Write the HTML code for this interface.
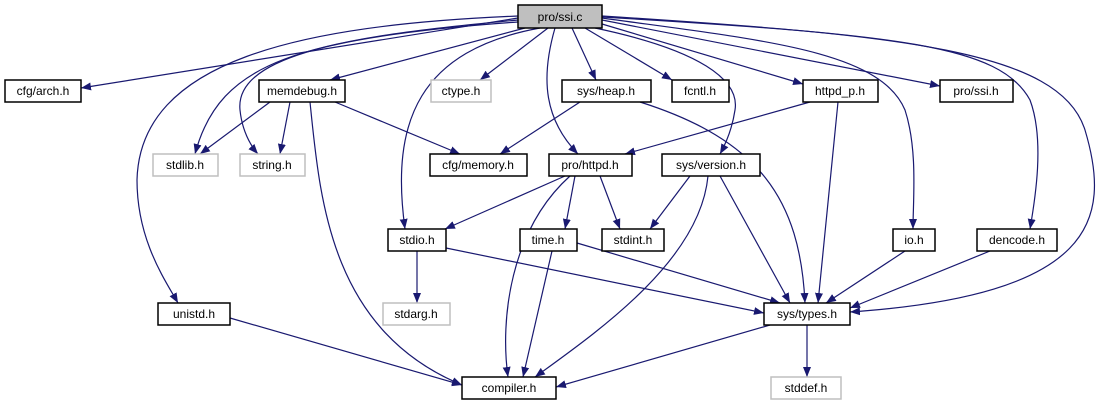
<!DOCTYPE html>
<html><head><meta charset="utf-8"><style>
html,body{margin:0;padding:0;background:#fff;}
svg{display:block;}
text{font-family:"Liberation Sans",sans-serif;font-size:12px;text-anchor:middle;}
</style></head><body>
<svg width="1110" height="411" viewBox="0 0 1110 411" xmlns="http://www.w3.org/2000/svg">
<defs><marker id="a" viewBox="0 0 10 10" refX="10" refY="5" markerWidth="10" markerHeight="10" markerUnits="userSpaceOnUse" orient="auto"><path d="M0,1 L10,5 L0,9 z" fill="#191970"/></marker></defs>
<g fill="none" stroke="#191970" stroke-width="1.2" marker-end="url(#a)">
<path d="M518,18 L81,88"/>
<path d="M518,20 C300,40 220,60 195,154"/>
<path d="M518,22 C330,35 235,60 240,110 C242,130 250,145 258,154"/>
<path d="M525,28 L330,80"/>
<path d="M540,28 C420,50 390,120 405,229"/>
<path d="M548,28 L480,80"/>
<path d="M555,28 C540,80 545,120 578,154"/>
<path d="M572,28 L596,80"/>
<path d="M585,28 L672,80"/>
<path d="M595,28 C700,50 740,80 735,110 C732,130 725,145 720,154"/>
<path d="M602,24 L803,84"/>
<path d="M602,20 L940,86"/>
<path d="M602,18 C760,40 880,50 905,110 C918,150 913,200 913,229"/>
<path d="M602,17 C900,35 1000,45 1030,100 C1045,140 1035,200 1030,229"/>
<path d="M602,16 C900,35 1060,50 1085,130 C1112,220 1095,295 850,312"/>
<path d="M518,16 C300,25 140,60 137,180 C137,240 165,280 178,303"/>
<path d="M270,102 L200,154"/>
<path d="M290,102 L280,154"/>
<path d="M335,102 L460,154"/>
<path d="M310,102 C320,200 330,330 462,385"/>
<path d="M580,102 L500,154"/>
<path d="M640,102 C760,140 800,200 805,303"/>
<path d="M810,102 L625,154"/>
<path d="M838,102 L818,303"/>
<path d="M565,176 L445,229"/>
<path d="M575,176 L565,229"/>
<path d="M600,176 L620,229"/>
<path d="M570,176 C510,230 500,320 508,377"/>
<path d="M690,176 L650,229"/>
<path d="M720,176 L790,303"/>
<path d="M708,176 C700,260 600,330 535,377"/>
<path d="M417,251 L417,303"/>
<path d="M446,248 L764,313"/>
<path d="M577,243 L780,303"/>
<path d="M552,251 L523,377"/>
<path d="M905,251 L826,303"/>
<path d="M990,251 L850,308"/>
<path d="M230,318 L462,385"/>
<path d="M770,325 L556,387"/>
<path d="M807,325 L807,377"/>
</g>
<g stroke-width="1.5">
<rect x="518" y="5" width="84" height="23" fill="#bfbfbf" stroke="#000"/><text x="560" y="21">pro/ssi.c</text>
<rect x="5" y="80" width="76" height="22" fill="#fff" stroke="#000"/><text x="43" y="95">cfg/arch.h</text>
<rect x="259" y="80" width="86" height="22" fill="#fff" stroke="#000"/><text x="302" y="95">memdebug.h</text>
<rect x="431" y="80" width="60" height="22" fill="#fff" stroke="#bfbfbf"/><text x="461" y="95">ctype.h</text>
<rect x="562" y="80" width="89" height="22" fill="#fff" stroke="#000"/><text x="606" y="95">sys/heap.h</text>
<rect x="672" y="80" width="57" height="22" fill="#fff" stroke="#000"/><text x="700" y="95">fcntl.h</text>
<rect x="803" y="80" width="75" height="22" fill="#fff" stroke="#000"/><text x="840" y="95">httpd_p.h</text>
<rect x="940" y="80" width="73" height="22" fill="#fff" stroke="#000"/><text x="976" y="95">pro/ssi.h</text>
<rect x="153" y="154" width="65" height="22" fill="#fff" stroke="#bfbfbf"/><text x="185" y="169">stdlib.h</text>
<rect x="240" y="154" width="65" height="22" fill="#fff" stroke="#bfbfbf"/><text x="272" y="169">string.h</text>
<rect x="430" y="154" width="97" height="22" fill="#fff" stroke="#000"/><text x="478" y="169">cfg/memory.h</text>
<rect x="549" y="154" width="83" height="22" fill="#fff" stroke="#000"/><text x="590" y="169">pro/httpd.h</text>
<rect x="662" y="154" width="98" height="22" fill="#fff" stroke="#000"/><text x="711" y="169">sys/version.h</text>
<rect x="388" y="229" width="58" height="22" fill="#fff" stroke="#000"/><text x="417" y="244">stdio.h</text>
<rect x="520" y="229" width="57" height="22" fill="#fff" stroke="#000"/><text x="548" y="244">time.h</text>
<rect x="602" y="229" width="62" height="22" fill="#fff" stroke="#000"/><text x="633" y="244">stdint.h</text>
<rect x="893" y="229" width="42" height="22" fill="#fff" stroke="#000"/><text x="914" y="244">io.h</text>
<rect x="977" y="229" width="80" height="22" fill="#fff" stroke="#000"/><text x="1017" y="244">dencode.h</text>
<rect x="158" y="303" width="72" height="22" fill="#fff" stroke="#000"/><text x="194" y="318">unistd.h</text>
<rect x="383" y="303" width="67" height="22" fill="#fff" stroke="#bfbfbf"/><text x="416" y="318">stdarg.h</text>
<rect x="764" y="303" width="86" height="22" fill="#fff" stroke="#000"/><text x="807" y="318">sys/types.h</text>
<rect x="462" y="377" width="94" height="22" fill="#fff" stroke="#000"/><text x="509" y="392">compiler.h</text>
<rect x="771" y="377" width="70" height="22" fill="#fff" stroke="#bfbfbf"/><text x="806" y="392">stddef.h</text>
</g>
</svg>
</body></html>
